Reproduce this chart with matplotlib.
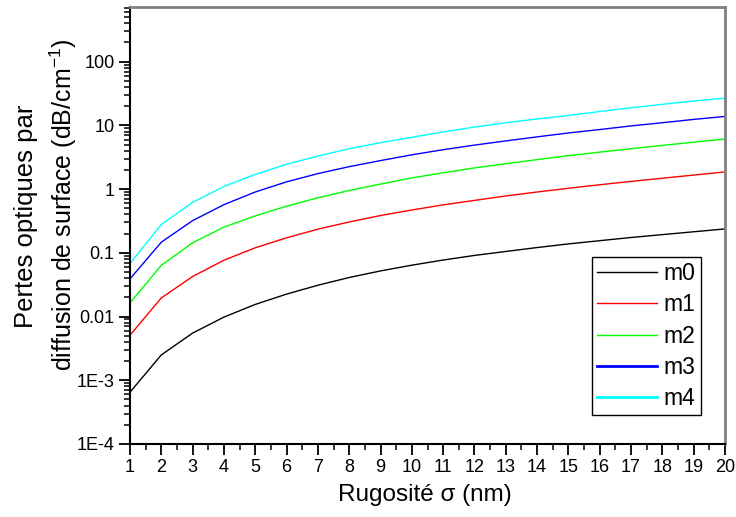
import numpy as np
import matplotlib
matplotlib.use("Agg")
import matplotlib.pyplot as plt
from matplotlib.ticker import FixedLocator, FixedFormatter, LogLocator, NullFormatter, MultipleLocator

plt.rcParams['font.family'] = ['Liberation Sans', 'DejaVu Sans']
plt.rcParams['mathtext.fontset'] = 'custom'
plt.rcParams['mathtext.rm'] = 'Liberation Sans'

# roughness sigma (nm)
sigma = [1, 2, 3, 4, 5, 6, 7, 8, 9, 10, 11, 12, 13, 14, 15, 16, 17, 18, 19, 20]

# surface scattering losses (dB/cm-1)
m0 = [0.00065, 0.0025, 0.0055, 0.0098, 0.0155, 0.0225, 0.031, 0.041, 0.052, 0.064,
      0.077, 0.091, 0.105, 0.121, 0.138, 0.155, 0.174, 0.193, 0.214, 0.237]
m1 = [0.0051, 0.0196, 0.0425, 0.0766, 0.12, 0.172, 0.235, 0.305, 0.385, 0.47,
      0.565, 0.665, 0.78, 0.9, 1.03, 1.17, 1.32, 1.48, 1.66, 1.86]
m2 = [0.0164, 0.0638, 0.144, 0.253, 0.38, 0.54, 0.73, 0.95, 1.2, 1.5,
      1.8, 2.15, 2.5, 2.9, 3.35, 3.8, 4.3, 4.85, 5.45, 6.1]
m3 = [0.039, 0.147, 0.32, 0.57, 0.9, 1.3, 1.75, 2.25, 2.8, 3.45,
      4.15, 4.9, 5.7, 6.6, 7.6, 8.6, 9.8, 11.0, 12.4, 13.8]
m4 = [0.068, 0.278, 0.62, 1.1, 1.7, 2.45, 3.3, 4.3, 5.35, 6.5,
      7.9, 9.4, 11.0, 12.6, 14.3, 16.5, 18.9, 21.4, 24.1, 26.8]

series = [m0, m1, m2, m3, m4]
names = ["m0", "m1", "m2", "m3", "m4"]
colors = ["#000000", "#ff0000", "#00ff00", "#0000ff", "#00ffff"]

ytick_vals = [1e-4, 1e-3, 0.01, 0.1, 1, 10, 100]
ytick_labels = ["1E-4", "1E-3", "0.01", "0.1", "1", "10", "100"]

fig = plt.figure(figsize=(7.36, 5.17), dpi=100)
ax = fig.add_axes([130/736, 1-444/517, 595/736, 437/517])

for vals, name, c in zip(series, names, colors):
    ax.plot(sigma, vals, color=c, lw=1.0, label=name)

ax.set_yscale('log')
ax.set_xlim(1, 20)
ax.set_ylim(1e-4, 720)

ax.xaxis.set_major_locator(MultipleLocator(1))
ax.xaxis.set_minor_locator(MultipleLocator(0.5))
ax.yaxis.set_major_locator(FixedLocator(ytick_vals))
ax.yaxis.set_major_formatter(FixedFormatter(ytick_labels))
ax.yaxis.set_minor_locator(LogLocator(base=10, subs=np.arange(2, 10)))
ax.yaxis.set_minor_formatter(NullFormatter())

ax.tick_params(which='major', direction='out', length=8, width=1.3, labelsize=13, pad=3)
ax.tick_params(which='minor', direction='out', length=4.5, width=1.1)
ax.tick_params(top=False, right=False)

for s in ['left', 'bottom']:
    ax.spines[s].set_color('black')
    ax.spines[s].set_linewidth(1.5)
for s in ['top', 'right']:
    ax.spines[s].set_color('#808080')
    ax.spines[s].set_linewidth(2)

leg = ax.legend(loc='lower right', bbox_to_anchor=(0.959, 0.066), fontsize=16.5,
                frameon=True, fancybox=False, edgecolor='black', framealpha=1,
                handlelength=2.6, handletextpad=0.3, labelspacing=0.36,
                borderpad=0.22, borderaxespad=0)
leg.get_frame().set_linewidth(1.0)
for ln in leg.get_lines()[3:]:
    ln.set_linewidth(2)

fig.text(425/736, 1-495/517, "Rugosité σ (nm)", ha='center', va='center', fontsize=17.5)
fig.text(26/736, 1-216/517, "Pertes optiques par", rotation=90,
         ha='center', va='center', fontsize=18.5)
fig.text(63/736, 1-205/517, r"diffusion de surface (dB/cm$^{-1}$)", rotation=90,
         ha='center', va='center', fontsize=18)

fig.savefig("out.png", dpi=100)
